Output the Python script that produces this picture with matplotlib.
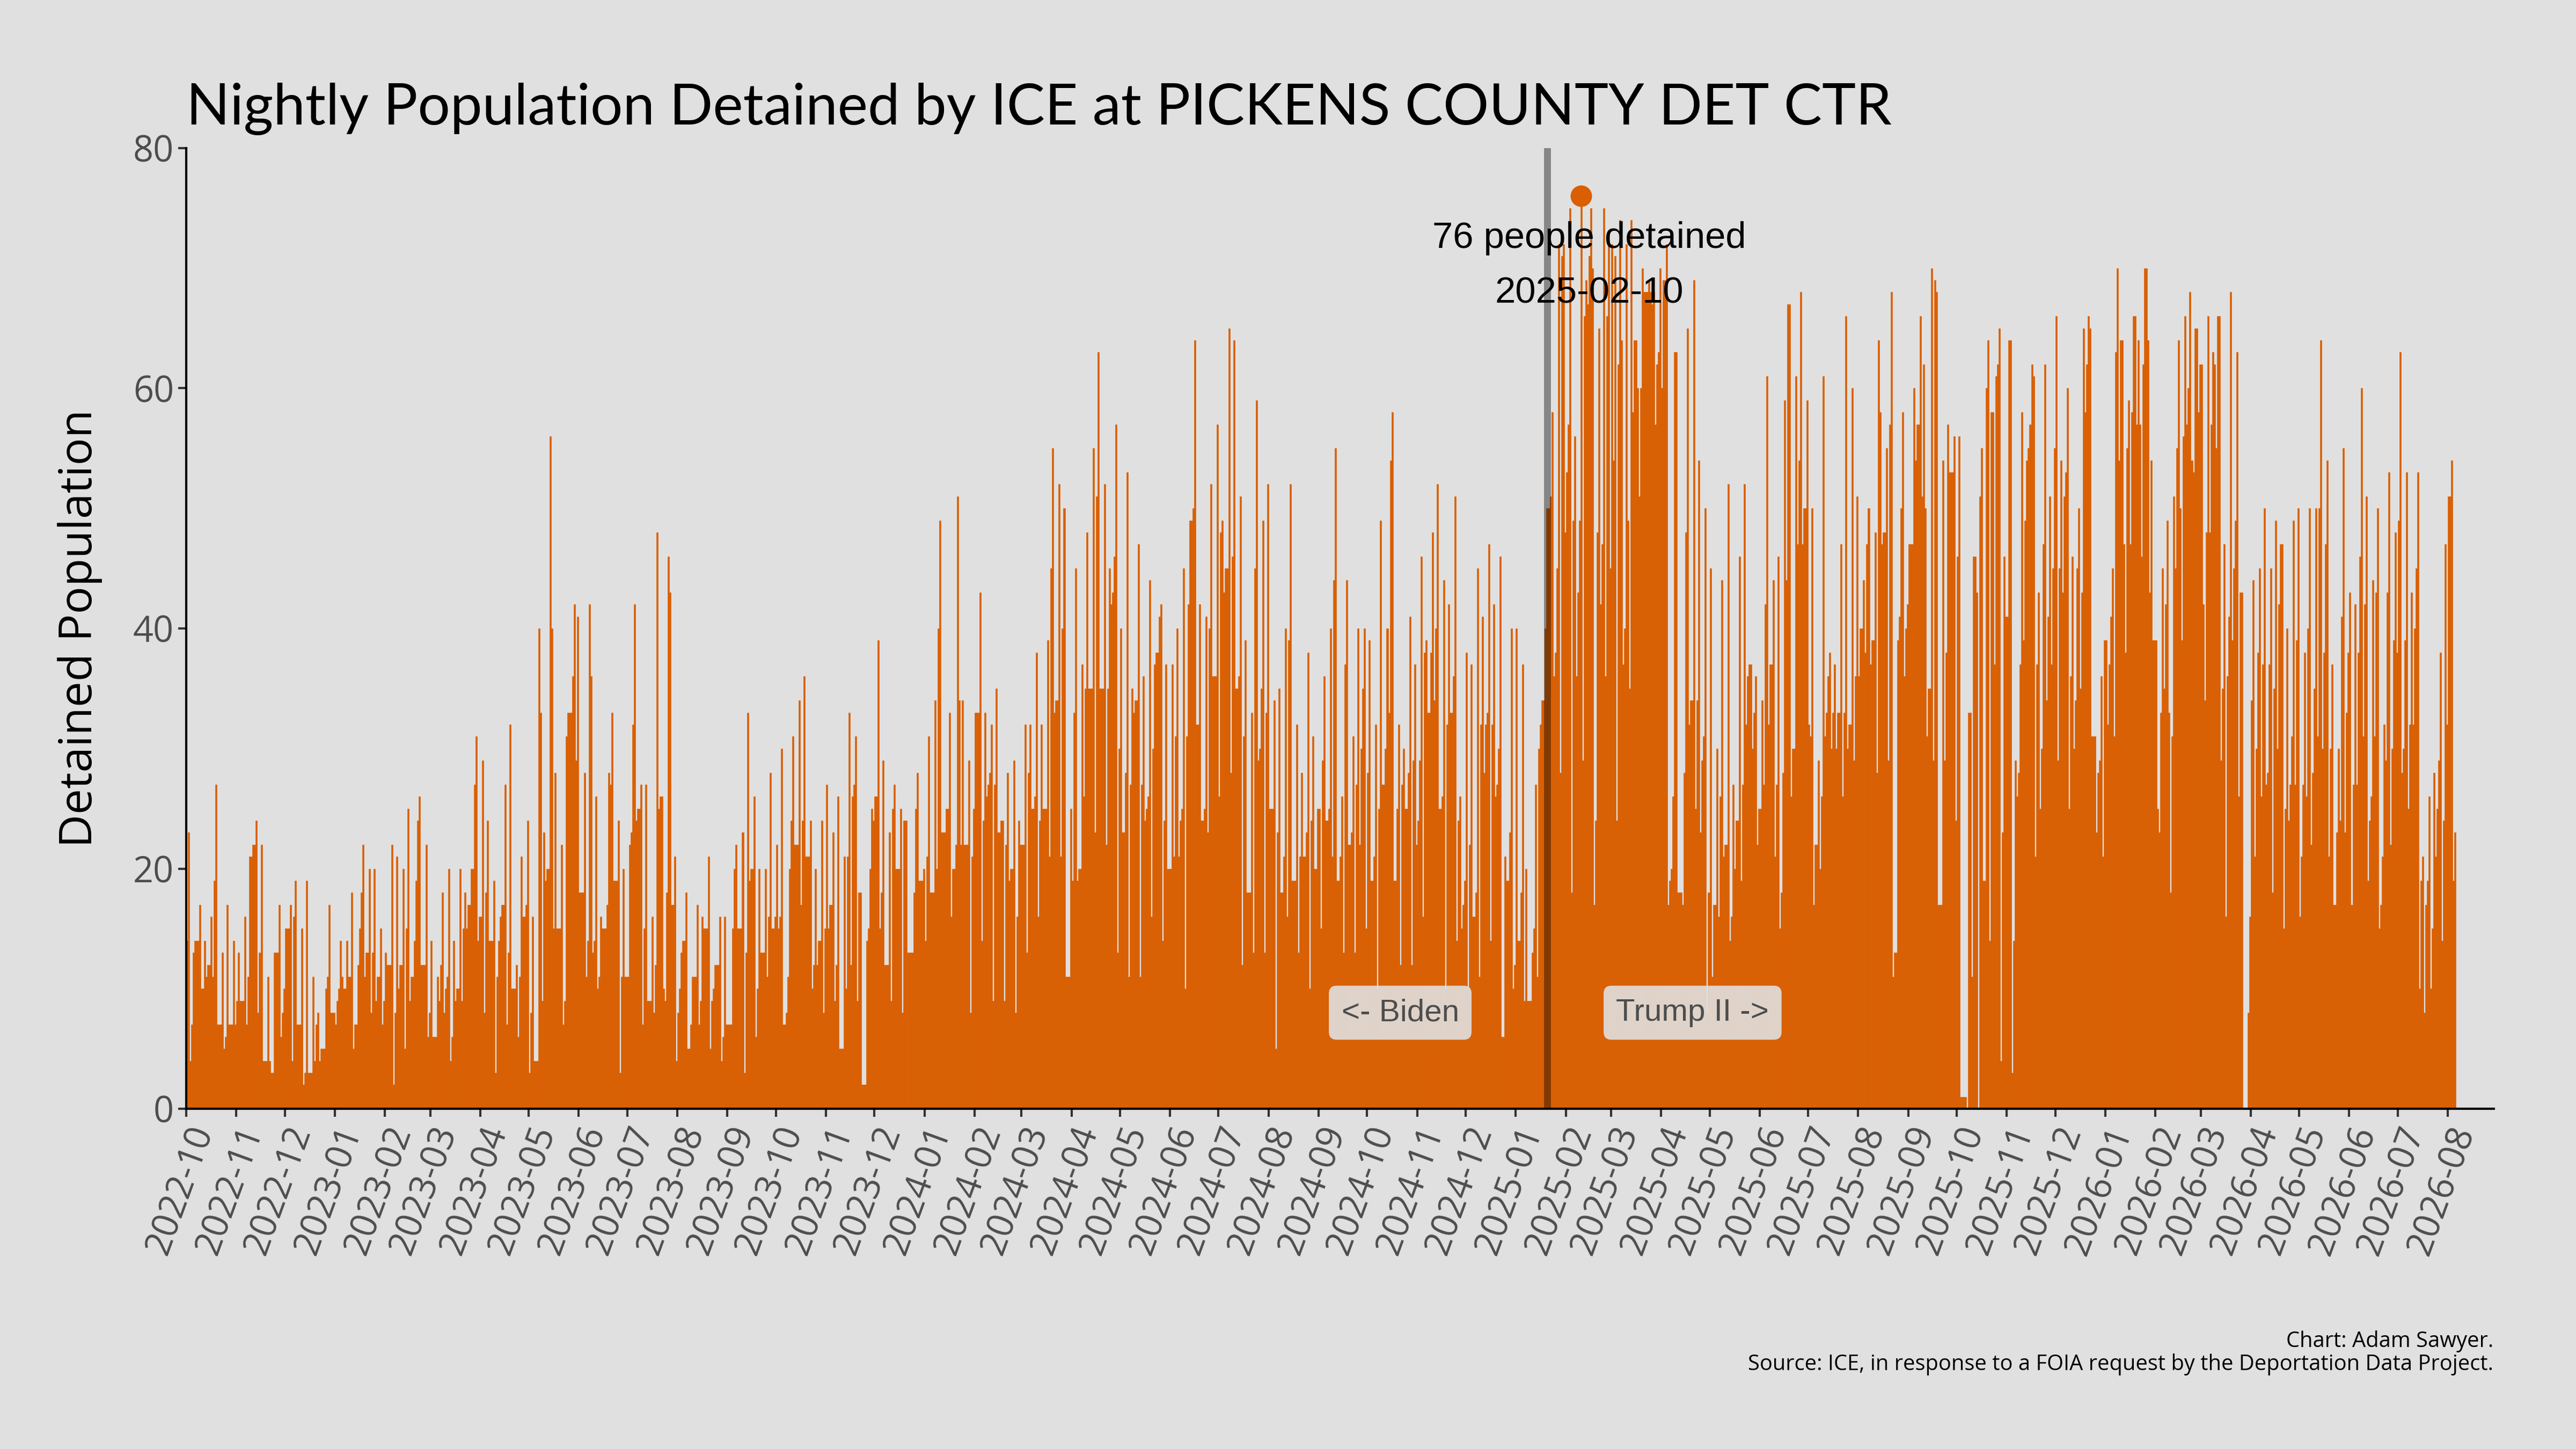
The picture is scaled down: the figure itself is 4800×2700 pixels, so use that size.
import numpy as np
import pandas as pd
import matplotlib
matplotlib.use("Agg")
import matplotlib.pyplot as plt
import matplotlib.dates as mdates

# ---------------- data (nightly detained population, daily from start_date) ----------------
start_date = "2022-10-01"

pop_2022_10_to_2023_03 = [
    14, 23, 4, 7, 13, 14, 14, 14, 17, 10, 10, 14, 11, 12, 12, 16, 11, 19, 27, 7, 7, 7, 13, 5, 6, 17,
    7, 7, 7, 14, 7, 9, 13, 9, 9, 9, 16, 7, 11, 21, 21, 22, 22, 24, 8, 13, 22, 4, 4, 4, 11, 4, 3, 3,
    13, 13, 13, 17, 6, 8, 10, 15, 15, 15, 17, 4, 16, 19, 7, 7, 7, 15, 2, 3, 19, 3, 3, 3, 11, 4, 7, 8,
    4, 5, 5, 5, 10, 11, 17, 8, 8, 8, 7, 9, 10, 14, 11, 10, 10, 14, 11, 11, 18, 5, 7, 7, 12, 15, 18, 22,
    11, 13, 13, 20, 8, 13, 20, 9, 11, 11, 15, 7, 9, 13, 12, 12, 12, 22, 2, 8, 21, 10, 12, 12, 20, 5,
    15, 25, 9, 11, 11, 14, 19, 24, 26, 12, 12, 12, 22, 6, 8, 14, 6, 6, 6, 11, 9, 12, 18, 8, 10, 11,
    20, 4, 6, 14, 9, 10, 10, 20, 9, 15, 18, 15, 17, 17, 20,
]
pop_2023_03_to_2023_09 = [
    20, 27, 31, 14, 16, 16, 29, 8, 18, 24, 14, 14, 14, 19, 3, 11, 14, 16, 17, 17, 27, 7, 13, 32, 10,
    10, 10, 12, 6, 11, 21, 16, 16, 17, 24, 3, 8, 16, 4, 4, 4, 40, 33, 9, 23, 19, 20, 20, 56, 40, 15,
    28, 15, 15, 15, 22, 7, 9, 31, 33, 33, 33, 36, 42, 29, 41, 18, 18, 18, 28, 11, 14, 42, 36, 13, 14,
    26, 10, 11, 16, 15, 15, 15, 17, 28, 27, 33, 19, 19, 19, 24, 3, 11, 20, 11, 11, 11, 22, 23, 32, 42,
    24, 25, 25, 27, 7, 15, 27, 9, 9, 9, 16, 8, 12, 48, 25, 26, 26, 10, 9, 18, 46, 43, 17, 17, 21, 4,
    8, 10, 13, 14, 14, 18, 5, 5, 7, 11, 11, 11, 17, 7, 9, 16, 15, 15, 15, 21, 5, 9, 10, 12, 12, 12,
    16, 4, 6, 16, 7, 7, 7, 7, 15, 20, 22, 15, 15, 15, 23, 3, 13, 33, 19, 20, 20, 26, 6,
]
pop_2023_09_to_2024_03 = [
    10, 20, 13, 13, 13, 20, 11, 16, 28, 15, 15, 16, 22, 15, 16, 30, 7, 7, 8, 11, 20, 24, 31, 22, 22,
    22, 34, 17, 24, 36, 21, 21, 21, 24, 10, 12, 20, 12, 14, 14, 24, 8, 15, 27, 15, 17, 17, 23, 9, 12,
    26, 5, 5, 5, 21, 10, 21, 33, 12, 26, 27, 31, 9, 18, 18, 2, 2, 2, 14, 15, 20, 25, 24, 26, 26, 39,
    15, 18, 29, 12, 12, 12, 23, 9, 25, 27, 20, 20, 20, 25, 8, 24, 24, 13, 13, 13, 13, 18, 25, 28, 19,
    19, 19, 20, 14, 21, 31, 18, 18, 18, 34, 20, 40, 49, 23, 23, 23, 25, 25, 33, 16, 20, 20, 22, 51,
    34, 22, 34, 22, 22, 22, 29, 8, 21, 25, 33, 33, 33, 43, 14, 24, 33, 26, 27, 28, 32, 9, 27, 35, 23,
    23, 24, 24, 9, 22, 28, 19, 20, 20, 29, 8, 16, 24, 22, 22, 22, 32, 13, 28, 32, 25, 25, 26, 38, 16,
    24,
]
pop_2024_03_to_2024_09 = [
    32, 25, 25, 25, 39, 21, 45, 55, 33, 34, 34, 52, 21, 40, 50, 11, 11, 11, 25, 19, 33, 45, 19, 20,
    20, 37, 26, 35, 48, 35, 35, 35, 55, 23, 51, 63, 35, 35, 35, 52, 22, 35, 45, 42, 43, 46, 57, 13,
    30, 40, 23, 23, 28, 53, 11, 27, 35, 33, 34, 34, 47, 11, 27, 36, 24, 25, 26, 44, 16, 30, 37, 38,
    38, 41, 42, 14, 24, 37, 20, 20, 20, 37, 21, 31, 40, 21, 24, 25, 45, 10, 31, 42, 49, 49, 50, 64,
    32, 32, 42, 24, 24, 25, 41, 23, 40, 52, 36, 36, 36, 57, 26, 48, 49, 43, 45, 45, 65, 28, 46, 64,
    35, 35, 36, 51, 12, 31, 39, 18, 18, 18, 33, 13, 45, 59, 29, 30, 35, 49, 13, 33, 52, 25, 25, 25,
    34, 5, 23, 35, 18, 18, 21, 40, 16, 39, 52, 19, 19, 19, 32, 13, 21, 28, 21, 21, 23, 38, 10, 24,
    31, 20, 20, 25, 25, 15, 29, 36,
]
pop_2024_09_to_2025_02 = [
    24, 24, 25, 40, 21, 44, 55, 19, 19, 21, 26, 13, 37, 44, 22, 22, 23, 31, 13, 27, 40, 22, 30, 35,
    40, 15, 28, 39, 19, 19, 21, 32, 10, 25, 49, 27, 27, 30, 40, 33, 54, 58, 19, 19, 25, 32, 12, 27,
    30, 25, 25, 28, 41, 12, 29, 37, 22, 24, 29, 46, 16, 38, 39, 33, 33, 38, 48, 34, 40, 52, 25, 25,
    26, 44, 10, 32, 42, 33, 33, 36, 51, 14, 24, 26, 15, 17, 19, 38, 10, 22, 37, 16, 16, 18, 45, 11,
    32, 41, 28, 32, 33, 47, 14, 32, 42, 26, 27, 30, 46, 6, 6, 21, 19, 19, 23, 40, 10, 12, 40, 14, 14,
    18, 37, 9, 20, 9, 9, 9, 13, 15, 27, 11, 30, 32, 34, 34, 40, 50, 50, 51, 58, 36, 38, 45, 72, 28,
    71, 72, 48, 53, 57, 75, 18, 49, 56, 36, 43, 49, 76, 29, 66, 69, 67, 71, 75, 70, 17, 24, 48, 65,
    42, 47, 75, 36, 66,
]
pop_2025_02_to_2025_08 = [
    73, 45, 72, 54, 71, 24, 62, 74, 64, 37, 40, 72, 49, 35, 74, 58, 64, 64, 60, 51, 60, 70, 68, 68,
    68, 69, 68, 67, 68, 57, 62, 63, 70, 60, 69, 69, 72, 17, 19, 20, 26, 63, 63, 18, 18, 18, 17, 28,
    48, 65, 32, 34, 34, 69, 25, 34, 54, 23, 29, 31, 50, 8, 18, 45, 11, 17, 17, 30, 16, 26, 44, 21,
    22, 22, 52, 14, 16, 27, 20, 24, 24, 46, 19, 27, 52, 32, 36, 37, 37, 30, 33, 36, 22, 25, 25, 34,
    27, 42, 61, 32, 37, 37, 44, 21, 27, 46, 15, 18, 28, 59, 44, 67, 67, 26, 30, 30, 61, 47, 54, 68,
    47, 50, 50, 59, 32, 31, 50, 17, 22, 22, 29, 20, 26, 61, 31, 33, 36, 38, 30, 33, 37, 30, 33, 33,
    47, 26, 33, 66, 30, 32, 32, 60, 29, 36, 51, 36, 40, 40, 44, 38, 47, 50, 37, 39, 39, 48, 28, 64,
    58, 47, 48, 48, 55, 29, 57, 68, 11, 13,
]
pop_2025_08_to_2026_02 = [
    13, 39, 41, 50, 58, 36, 40, 42, 47, 47, 47, 60, 54, 57, 57, 66, 51, 62, 50, 31, 35, 35, 70, 29,
    69, 68, 17, 17, 17, 54, 29, 38, 57, 53, 53, 53, 56, 24, 46, 56, 1, 1, 1, 1, 0, 33, 33, 11, 46,
    46, 43, 0, 51, 55, 19, 19, 60, 64, 14, 58, 58, 37, 61, 62, 65, 4, 23, 46, 41, 41, 64, 64, 3, 14,
    29, 26, 28, 37, 58, 39, 49, 54, 55, 57, 62, 61, 21, 37, 43, 25, 30, 47, 62, 34, 41, 51, 37, 45,
    55, 66, 29, 45, 54, 43, 51, 53, 60, 25, 36, 46, 30, 34, 45, 50, 35, 43, 65, 58, 62, 66, 65, 31,
    31, 31, 23, 28, 29, 36, 21, 39, 39, 32, 37, 41, 45, 31, 63, 70, 54, 64, 64, 47, 38, 55, 59, 47,
    58, 66, 66, 57, 64, 57, 46, 62, 70, 70, 64, 43, 54, 39, 39, 39, 25, 23, 33, 45, 35, 42, 49, 33,
    18, 31, 51,
]
pop_2026_02_to_2026_08 = [
    45, 55, 64, 50, 39, 56, 66, 57, 60, 68, 54, 53, 65, 65, 58, 62, 62, 42, 34, 48, 66, 48, 57, 63,
    62, 55, 66, 66, 29, 35, 47, 16, 36, 41, 68, 39, 45, 49, 63, 26, 43, 43, 0, 0, 0, 8, 16, 34, 44,
    21, 30, 38, 45, 26, 37, 50, 27, 28, 37, 45, 18, 35, 49, 30, 42, 47, 47, 15, 25, 40, 24, 27, 31,
    49, 27, 39, 50, 16, 21, 27, 38, 26, 40, 50, 22, 28, 35, 50, 31, 50, 64, 30, 38, 47, 54, 21, 30,
    37, 17, 17, 23, 30, 24, 41, 55, 23, 33, 38, 43, 17, 27, 42, 27, 38, 46, 60, 31, 42, 51, 19, 24,
    26, 44, 31, 43, 50, 15, 17, 21, 32, 29, 43, 53, 22, 30, 39, 48, 38, 49, 63, 28, 30, 39, 53, 25,
    32, 43, 32, 40, 45, 53, 10, 19, 21, 8, 17, 19, 26, 10, 15, 28, 21, 25, 29, 38, 14, 24, 47, 32,
    51, 51, 54, 19, 23,
]

title_text = "Nightly Population Detained by ICE at PICKENS COUNTY DET CTR"
y_label = "Detained Population"
y_ticks = [0, 20, 40, 60, 80]
inauguration_date = "2025-01-20"
biden_label = "<- Biden"
trump_label = "Trump II ->"
caption_lines = ["Chart: Adam Sawyer.",
                 "Source: ICE, in response to a FOIA request by the Deportation Data Project."]

values = np.array(pop_2022_10_to_2023_03 + pop_2023_03_to_2023_09 + pop_2023_09_to_2024_03
                  + pop_2024_03_to_2024_09 + pop_2024_09_to_2025_02 + pop_2025_02_to_2025_08
                  + pop_2025_08_to_2026_02 + pop_2026_02_to_2026_08)
dates = pd.date_range(start_date, periods=len(values), freq="D")
month_ticks = pd.date_range("2022-10-01", "2026-08-01", freq="MS")

# ---------------- style ----------------
BG = "#e0e0e0"
ORANGE = "#d95f02"
GRAY_TXT = "#4d4d4d"
MAIN_FONT = ["Open Sans", "DejaVu Sans"]
TITLE_FONT = ["Lato", "Open Sans", "DejaVu Sans"]
ANNO_FONT = ["Liberation Sans", "DejaVu Sans"]

fig = plt.figure(figsize=(16, 9), dpi=300, facecolor=BG)
ax = fig.add_axes([0.0723, 0.2348, 0.8958, 0.663])
ax.set_facecolor(BG)

ax.bar(dates, values, width=1.0, align="edge", color=ORANGE,
       edgecolor=ORANGE, linewidth=0.15, zorder=2)

day = pd.Timedelta(days=1)
ax.set_xlim(dates[0], dates[0] + 1428.5 * day)
ax.set_ylim(0, 80)

# inauguration line
inaug = pd.Timestamp(inauguration_date) + 0.5 * day
ax.axvline(inaug, color="black", alpha=0.4, linewidth=3.1, zorder=3)

# peak annotation
i_max = int(np.argmax(values))
peak_date = dates[i_max]
peak_val = values[i_max]
ax.plot(peak_date + 0.5 * day, peak_val, "o", ms=9.6, color=ORANGE, mec="none", zorder=4)
ax.text(peak_date + 5.5 * day, peak_val - 4.3, f"{peak_val} people detained",
        ha="center", va="baseline", fontsize=16.5, family=ANNO_FONT, color="black", zorder=5)
ax.text(peak_date + 5.5 * day, peak_val - 8.9, peak_date.strftime("%Y-%m-%d"),
        ha="center", va="baseline", fontsize=16.5, family=ANNO_FONT, color="black", zorder=5)

# era labels
box = dict(boxstyle="round,pad=0.4,rounding_size=0.25", facecolor=BG, alpha=0.9, edgecolor="none")
ax.text(inaug - 91 * day, 8, biden_label, ha="center", va="center", fontsize=14,
        family=ANNO_FONT, color=GRAY_TXT, bbox=box, zorder=5)
ax.text(inaug + 90 * day, 8, trump_label, ha="center", va="center", fontsize=14,
        family=ANNO_FONT, color=GRAY_TXT, bbox=box, zorder=5)

# axes styling
for s in ["top", "right"]:
    ax.spines[s].set_visible(False)
for s in ["left", "bottom"]:
    ax.spines[s].set_color("black")
    ax.spines[s].set_linewidth(1.0)
    ax.spines[s].set_zorder(6)

ax.set_yticks(y_ticks)
ax.set_yticklabels([str(v) for v in y_ticks], family=MAIN_FONT, fontsize=16, color=GRAY_TXT)
ax.set_xticks(month_ticks)
ax.set_xticklabels([d.strftime("%Y-%m") for d in month_ticks], rotation=70,
                   ha="right", va="top", rotation_mode="anchor",
                   family=MAIN_FONT, fontsize=16, color=GRAY_TXT)
ax.tick_params(axis="both", length=3.5, width=1.0, color="#333333", pad=2)
ax.grid(False)

title = fig.text(0.0723, 1 - 232 / 2700, title_text, ha="left", va="baseline",
                 fontsize=28, family=TITLE_FONT, color="black")
fig.text(0.031, (0.2348 + 0.8978) / 2, y_label, rotation=90, ha="center", va="center",
         fontsize=20.5, family=MAIN_FONT, color="black")
cap1 = fig.text(0.968, 1 - 2510 / 2700, caption_lines[0], ha="right", va="baseline",
                fontsize=9.5, family=MAIN_FONT, color="black")
cap2 = fig.text(0.968, 1 - 2553 / 2700, caption_lines[1], ha="right", va="baseline",
                fontsize=9.5, family=MAIN_FONT, color="black")

# fit title / caption widths to the reference layout (pixel widths at 300 dpi)
renderer = fig.canvas.get_renderer()
w = title.get_window_extent(renderer).width
title.set_fontsize(28 * 3180 / w)
w2 = cap2.get_window_extent(renderer).width
fs2 = 9.5 * 1390 / w2
cap1.set_fontsize(fs2)
cap2.set_fontsize(fs2)

fig.savefig("out.png", dpi=300, facecolor=BG)
